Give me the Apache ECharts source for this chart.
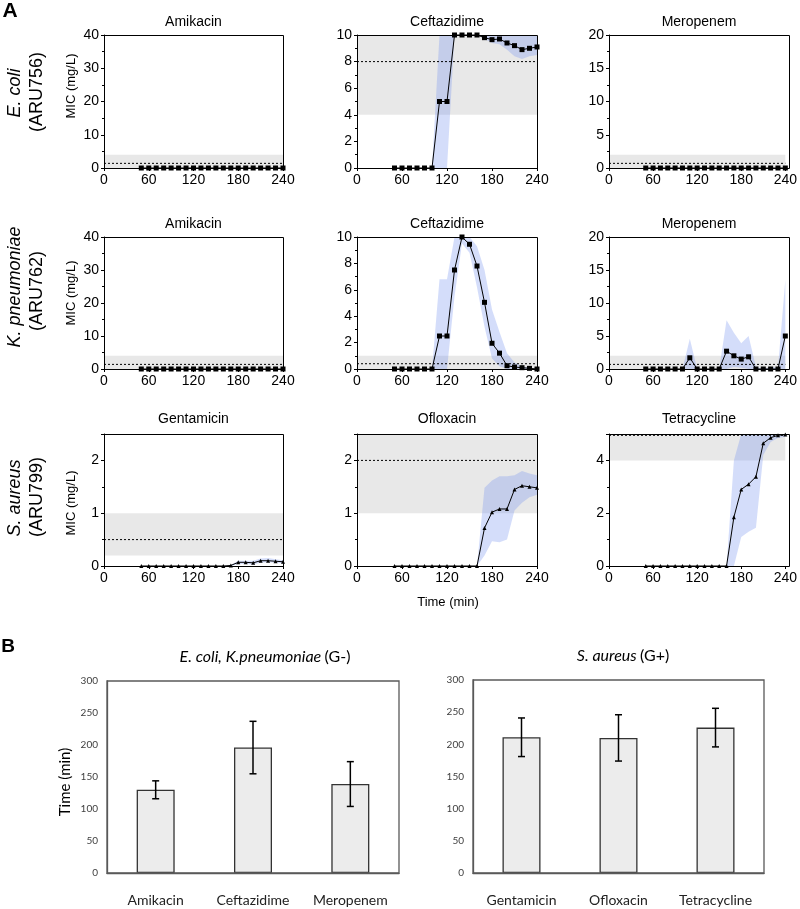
<!DOCTYPE html>
<html><head><meta charset="utf-8">
<script src="https://cdn.jsdelivr.net/npm/echarts@6/dist/echarts.min.js"></script>
<style>html,body{margin:0;padding:0;background:#fff}#c{width:800px;height:909px}</style>
</head><body><div id="c"></div>
<script>
// ---------- DATA ----------
const times = [50,60,70,80,90,100,110,120,130,140,150,160,170,180,190,200,210,220,230,240];
const zeros20 = [0,0,0,0,0,0,0,0,0,0,0,0,0,0,0,0,0,0,0,0];

// E. coli (ARU756)
const ecAmikacin = [0,0,0,0,0,0,0,0,0,0,0,0,0,0,0,0,0,0,0,0];
const ecCeftazidime = [0,0,0,0,0,0,5,5,10,10,10,10,9.8,9.65,9.7,9.4,9.2,8.9,9.0,9.1];
const ecCeftazidimeLo = [0,0,0,0,0,0,0,0,10,10,10,10,9.7,9.4,9.3,8.9,8.4,8.2,8.4,8.5];
const ecCeftazidimeHi = [0,0,0,0,0,0,10,10,10,10,10,10,10,10,10,10,10,10,10,10];
const ecMeropenem = [0,0,0,0,0,0,0,0,0,0,0,0,0,0,0,0,0,0,0,0];

// K. pneumoniae (ARU762)
const kpAmikacin = [0,0,0,0,0,0,0,0,0,0,0,0,0,0,0,0,0,0,0,0];
const kpCeftazidime = [0,0,0,0,0,0,2.5,2.5,7.5,10,9.45,7.8,5.05,1.95,1.2,0.25,0.15,0.1,0.05,0];
const kpCeftazidimeLo = [0,0,0,0,0,0,0,0,5.5,9.5,8.8,6.2,3.2,0.8,0.2,0,0,0,0,0];
const kpCeftazidimeHi = [0,0,0,0,0,0,6.8,6.8,10,10,10,9.3,7.5,4.5,2.8,1.2,0.5,0.2,0.1,0];
const kpMeropenem = [0,0,0,0,0,0,1.7,0,0,0,0,2.7,2.0,1.5,1.85,0,0,0,0,5.0];
const kpMeropenemLo = [0,0,0,0,0,0,0,0,0,0,0,0,0.3,0.2,0,0,0,0,0,0];
const kpMeropenemHi = [0,0,0,0,0,0,4.6,0,0,0,0,7.4,5.5,3.9,5.0,0.3,0,0.3,0.2,13.5];

// S. aureus (ARU799)
const saGentamicin = [0,0,0,0,0,0,0,0,0,0,0,0,0.01,0.07,0.07,0.06,0.1,0.1,0.09,0.08];
const saGentamicinLo = [0,0,0,0,0,0,0,0,0,0,0,0,0,0.04,0.04,0.03,0.06,0.07,0.06,0.05];
const saGentamicinHi = [0,0,0,0,0,0,0,0,0,0,0,0,0.02,0.1,0.1,0.1,0.14,0.15,0.13,0.11];
const saOfloxacin = [0,0,0,0,0,0,0,0,0,0,0,0,0.72,1.02,1.08,1.08,1.45,1.52,1.5,1.48];
const saOfloxacinLo = [0,0,0,0,0,0,0,0,0,0,0,0,0.2,0.47,0.45,0.5,1.05,1.2,1.3,1.35];
const saOfloxacinHi = [0,0,0,0,0,0,0,0,0,0,0,0,1.48,1.62,1.7,1.7,1.72,1.8,1.75,1.72];
const saTetracycline = [0,0,0,0,0,0,0,0,0,0,0,0,1.85,2.9,3.1,3.38,4.65,4.86,4.95,4.98];
const saTetracyclineLo = [0,0,0,0,0,0,0,0,0,0,0,0,0,1.1,1.3,1.45,4.2,4.7,4.85,4.9];
const saTetracyclineHi = [0,0,0,0,0,0,0,0,0,0,0,0,4.0,5,5,5,5,5,5,5];

// reference ranges (gray band) and breakpoints (dashed)
const grayLo = [0,4,0, 0,0,0, 0.2,1,4];
const grayHi = [4,10,2, 4,1,2, 1,2.5,5];
const dashVal = [1.4,8,0.7, 1.4,0.4,0.7, 0.5,2,4.95];
const yMax = [40,10,20, 40,10,20, 2.5,2.5,5];
const yStep = [10,2,5, 10,2,5, 1,1,2];
const panelTitles = ['Amikacin','Ceftazidime','Meropenem','Amikacin','Ceftazidime','Meropenem','Gentamicin','Ofloxacin','Tetracycline'];

// Panel B
const gNegCats = ['Amikacin','Ceftazidime','Meropenem'];
const gNegMean = [130,196,139];
const gNegErr = [14,41,35];
const gPosCats = ['Gentamicin','Ofloxacin','Tetracycline'];
const gPosMean = [211,210,226];
const gPosErr = [30,36,30];

const lines = [ecAmikacin,ecCeftazidime,ecMeropenem,kpAmikacin,kpCeftazidime,kpMeropenem,saGentamicin,saOfloxacin,saTetracycline];
const bandsLo = [zeros20,ecCeftazidimeLo,zeros20,zeros20,kpCeftazidimeLo,kpMeropenemLo,saGentamicinLo,saOfloxacinLo,saTetracyclineLo];
const bandsHi = [zeros20,ecCeftazidimeHi,zeros20,zeros20,kpCeftazidimeHi,kpMeropenemHi,saGentamicinHi,saOfloxacinHi,saTetracyclineHi];

// ---------- LAYOUT ----------
const colLeft = [104,357,609], colWidth = [179,180,180];
const rowTop = [35,237,434], rowHeight = [133,132,132];
const titleY = [22,224,419];
const AR = '"Liberation Sans", Arial, sans-serif';
const LA = 'Lato, "Open Sans", sans-serif';

const grids = [], xAxes = [], yAxes = [], series = [], graphics = [];

for (let i = 0; i < 9; i++) {
  const r = Math.floor(i/3), c = i%3;
  grids.push({left:colLeft[c], top:rowTop[r], width:colWidth[c], height:rowHeight[r], containLabel:false});
  xAxes.push({gridIndex:i, type:'value', min:0, max:240, interval:60, z:10,
    axisLine:{show:true, onZero:false, lineStyle:{color:'#000', width:1}},
    axisTick:{show:true, length:3, lineStyle:{color:'#000'}},
    axisLabel:{fontSize:14, color:'#000', margin:5, fontFamily:AR},
    splitLine:{show:false}});
  yAxes.push({gridIndex:i, type:'value', min:0, max:yMax[i], interval:yStep[i], z:10,
    axisLine:{show:true, lineStyle:{color:'#000', width:1}},
    axisTick:{show:true, length:3, lineStyle:{color:'#000'}},
    minorTick:{show:true, splitNumber:2, length:2, lineStyle:{color:'#000'}},
    axisLabel:{fontSize:14, color:'#000', margin:5, fontFamily:AR, showMaxLabel: r < 2},
    splitLine:{show:false}, minorSplitLine:{show:false}});
  const idx = i;
  series.push({type:'custom', xAxisIndex:i, yAxisIndex:i, z:1, silent:true, clip:true, animation:false,
    data: times.map((t,k)=>[t, bandsLo[idx][k], bandsHi[idx][k]]),
    encode:{x:0, y:[1,2]},
    renderItem: function(params, api){
      if (params.dataIndex !== 0) return null;
      const ch = [];
      const a = api.coord([0, grayHi[idx]]), b = api.coord([240, grayLo[idx]]);
      ch.push({type:'rect', shape:{x:a[0], y:a[1], width:b[0]-a[0], height:b[1]-a[1]}, style:{fill:'#e8e8e8'}});
      const pts = [];
      for (let k = 0; k < times.length; k++) pts.push(api.coord([times[k], bandsHi[idx][k]]));
      for (let k = times.length-1; k >= 0; k--) pts.push(api.coord([times[k], bandsLo[idx][k]]));
      ch.push({type:'polygon', shape:{points:pts}, style:{fill:'rgba(120,150,240,0.32)'}});
      const d0 = api.coord([0, dashVal[idx]]), d1 = api.coord([240, dashVal[idx]]);
      ch.push({type:'line', shape:{x1:d0[0], y1:d0[1], x2:d1[0], y2:d1[1]}, style:{stroke:'#000', lineWidth:1, lineDash:[2,2]}});
      return {type:'group', children:ch};
    }});
  series.push({type:'line', xAxisIndex:i, yAxisIndex:i, z:5, silent:true, animation:false, clip:false,
    data: times.map((t,k)=>[t, lines[idx][k]]),
    symbol: r < 2 ? 'rect' : 'triangle', symbolSize: r < 2 ? 5 : 4, showAllSymbol:true,
    lineStyle:{color:'#000', width:1}, itemStyle:{color:'#000'}});
  graphics.push({type:'rect', z:100, silent:true, shape:{x:colLeft[c]+0.5, y:rowTop[r]+0.5, width:colWidth[c], height:rowHeight[r]},
    style:{fill:'none', stroke:'#000', lineWidth:1}});
  graphics.push({type:'text', z:100, x:colLeft[c]+colWidth[c]/2, y:titleY[r],
    style:{text:panelTitles[i], font:'14px '+AR, fill:'#000', align:'center', verticalAlign:'middle', textAlign:'center', textVerticalAlign:'middle'}});
}

// bar grids
const barGrid = [{left:107, top:681, width:292, height:192},{left:473, top:680, width:291, height:193}];
const barCats = [gNegCats, gPosCats], barMean = [gNegMean, gPosMean], barErr = [gNegErr, gPosErr];
for (let j = 0; j < 2; j++) {
  const gi = 9 + j;
  grids.push(barGrid[j]);
  xAxes.push({gridIndex:gi, type:'category', data:barCats[j], z:10,
    axisLine:{show:true, lineStyle:{color:'#595959', width:1.3}}, axisTick:{show:false},
    axisLabel:{fontSize:14, color:'#222', margin:20, fontFamily:LA, interval:0}});
  yAxes.push({gridIndex:gi, type:'value', min:0, max:300, interval:50, z:10,
    axisLine:{show:true, lineStyle:{color:'#595959', width:1.3}}, axisTick:{show:false},
    axisLabel:{fontSize:10, color:'#404040', margin:9, fontFamily:LA},
    splitLine:{show:false}});
  series.push({type:'bar', xAxisIndex:gi, yAxisIndex:gi, barWidth:38, silent:true, animation:false,
    data: barMean[j], itemStyle:{color:'#ececec', borderColor:'#333', borderWidth:1.3}});
  const jj = j;
  series.push({type:'custom', xAxisIndex:gi, yAxisIndex:gi, z:6, silent:true, animation:false,
    data: barMean[j].map((m,k)=>[k, m - barErr[jj][k], m + barErr[jj][k]]),
    encode:{x:0, y:[1,2]},
    renderItem: function(params, api){
      const lo = api.coord([api.value(0), api.value(1)]);
      const hi = api.coord([api.value(0), api.value(2)]);
      const w = 3.5;
      return {type:'group', children:[
        {type:'line', shape:{x1:lo[0], y1:lo[1], x2:hi[0], y2:hi[1]}, style:{stroke:'#000', lineWidth:1.5}},
        {type:'line', shape:{x1:lo[0]-w, y1:lo[1], x2:lo[0]+w, y2:lo[1]}, style:{stroke:'#000', lineWidth:1.5}},
        {type:'line', shape:{x1:hi[0]-w, y1:hi[1], x2:hi[0]+w, y2:hi[1]}, style:{stroke:'#000', lineWidth:1.5}}
      ]};
    }});
  graphics.push({type:'rect', z:100, silent:true, shape:{x:barGrid[j].left, y:barGrid[j].top, width:barGrid[j].width, height:barGrid[j].height},
    style:{fill:'none', stroke:'#595959', lineWidth:1.3}});
}

function txt(x, y, text, font, rot, extra) {
  const o = {type:'text', z:100, x:x, y:y, rotation:rot||0,
    style:Object.assign({text:text, font:font, fill:'#000', align:'center', verticalAlign:'middle', textAlign:'center', textVerticalAlign:'middle'}, extra||{})};
  graphics.push(o);
}
const R90 = Math.PI/2;
txt(10, 11, 'A', 'bold 21px '+AR);
txt(8, 647, 'B', 'bold 19px '+AR);
txt(15, 93, 'E. coli', 'italic 18px '+AR, R90);
txt(37, 92, '(ARU756)', '18px '+AR, R90);
txt(15, 287, 'K. pneumoniae', 'italic 18px '+AR, R90);
txt(37, 291, '(ARU762)', '18px '+AR, R90);
txt(15, 498, 'S. aureus', 'italic 18px '+AR, R90);
txt(37, 497, '(ARU799)', '18px '+AR, R90);
txt(71, 86, 'MIC (mg/L)', '13px '+AR, R90);
txt(71, 293, 'MIC (mg/L)', '13px '+AR, R90);
txt(71, 503, 'MIC (mg/L)', '13px '+AR, R90);
txt(448, 602, 'Time (min)', '13px '+AR);
graphics.push({type:'text', z:100, x:265, y:657, style:{text:'{i|E. coli, K.pneumoniae} {n|(G-)}', align:'center', verticalAlign:'middle', textAlign:'center', textVerticalAlign:'middle',
  rich:{i:{font:'italic 16px '+LA, fill:'#000'}, n:{font:'16px '+LA, fill:'#000'}}}});
graphics.push({type:'text', z:100, x:623, y:656, style:{text:'{i|S. aureus} {n|(G+)}', align:'center', verticalAlign:'middle', textAlign:'center', textVerticalAlign:'middle',
  rich:{i:{font:'italic 16px '+LA, fill:'#000'}, n:{font:'16px '+LA, fill:'#000'}}}});
txt(65, 782, 'Time (min)', '15px '+LA, R90);

const chart = echarts.init(document.getElementById('c'), null, {renderer:'canvas'});
chart.setOption({
  animation:false,
  backgroundColor:'#fff',
  textStyle:{fontFamily:AR},
  grid:grids, xAxis:xAxes, yAxis:yAxes, series:series,
  graphic:{elements:graphics}
});
</script></body></html>
